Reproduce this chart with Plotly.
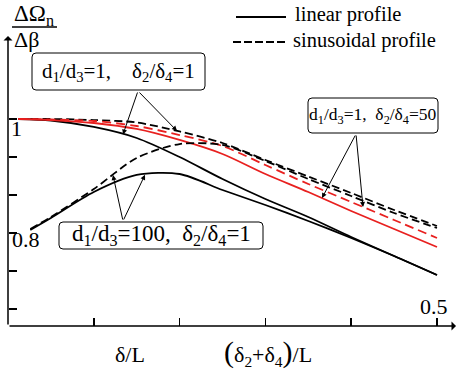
import numpy as np
import plotly.graph_objects as go

# ---- data ----
x_top = [0.012, 0.05, 0.1, 0.15, 0.2, 0.25, 0.3, 0.35, 0.4, 0.45, 0.5]
x_low = [0.026, 0.05, 0.1, 0.15, 0.2, 0.25, 0.3, 0.35, 0.4, 0.45, 0.5]

lin_1_1 = [1.000, 0.9974, 0.9860, 0.9667, 0.9333, 0.8947, 0.8596, 0.8281, 0.7930, 0.7596, 0.7263]
sin_1_1 = [1.000, 1.000, 0.9982, 0.9939, 0.9781, 0.9579, 0.9281, 0.8991, 0.8702, 0.8404, 0.8123]
lin_1_50 = [1.000, 0.9982, 0.9930, 0.9825, 0.9632, 0.9386, 0.9035, 0.8719, 0.8386, 0.8070, 0.7754]
sin_1_50 = [1.000, 0.9991, 0.9965, 0.9877, 0.9719, 0.9526, 0.9193, 0.8860, 0.8544, 0.8228, 0.7912]
lin_100_1 = [0.8053, 0.8263, 0.8719, 0.9018, 0.9035, 0.8754, 0.8491, 0.8211, 0.7912, 0.7596, 0.7263]
sin_100_1 = [0.8070, 0.8281, 0.8772, 0.9316, 0.9561, 0.9544, 0.9263, 0.8947, 0.8649, 0.8351, 0.8088]

y_tickvals = [1.0, 14 / 15, 13 / 15, 0.8, 11 / 15, 10 / 15]
x_tickvals = [0.1, 0.2, 0.3, 0.4, 0.5]

FONT = "Liberation Serif"
RED = "#e8201f"
W, H = 456, 372

# screen pixel -> axis helpers for placing text (layout only)
def X(px):
    return (px - 8) / 858.0

def Y(py):
    return 1 - (py - 119) / 570.0

fig = go.Figure()

def add(xs, ys, color, dash):
    fig.add_trace(go.Scatter(x=xs, y=ys, mode="lines",
                             line=dict(color=color, width=1.8, dash=dash, shape="spline", smoothing=0.8),
                             showlegend=False, hoverinfo="skip"))

add(x_top, lin_1_1, "black", "solid")
add(x_top, sin_1_1, "black", "8px,4px")
add(x_top, lin_1_50, RED, "solid")
add(x_top, sin_1_50, RED, "9px,5px")
add(x_low, lin_100_1, "black", "solid")
add(x_low, sin_100_1, "black", "8px,4px")

ann = []
shapes = []

def text(px, py, s, size=20, xanchor="center", **kw):
    d = dict(x=X(px), y=Y(py), xref="x", yref="y", text=s, showarrow=False,
             xanchor=xanchor, yanchor="middle", font=dict(family=FONT, size=size, color="black"))
    d.update(kw)
    ann.append(d)

def line_arrow(x0, y0, x1, y1, head, width, size=1.0):
    ann.append(dict(x=x1, y=y1, ax=x0, ay=y0, xref="x", yref="y", axref="x", ayref="y",
                    text="", showarrow=True, arrowhead=head, arrowsize=size, arrowwidth=width,
                    arrowcolor="black", standoff=0, startstandoff=0))

def arrow(tail_px, tail_py, tip_x, xs, ys):
    tip_y = float(np.interp(tip_x, xs, ys))
    line_arrow(X(tail_px), Y(tail_py), tip_x, tip_y, 2, 1)

def rbox(x0, y0, x1, y1, r=4):
    rx, ry = r / 858.0, r / 570.0
    a0, a1 = X(x0), X(x1)
    yt, yb = Y(y0), Y(y1)
    p = (f"M {a0+rx},{yt} L {a1-rx},{yt} Q {a1},{yt} {a1},{yt-ry} L {a1},{yb+ry} "
         f"Q {a1},{yb} {a1-rx},{yb} L {a0+rx},{yb} Q {a0},{yb} {a0},{yb+ry} "
         f"L {a0},{yt-ry} Q {a0},{yt} {a0+rx},{yt} Z")
    shapes.append(dict(type="path", path=p, xref="x", yref="y", fillcolor="white",
                       line=dict(color="black", width=1), layer="above"))

# axes with arrows
line_arrow(X(8), Y(326), X(8), Y(36), 1, 1.5)
line_arrow(X(8), Y(326), X(456), Y(326), 1, 1.5)

# labeled boxes
nb = "\u00a0"
rbox(32, 53, 205, 90)
text(118.5, 72, "d<sub>1</sub>/d<sub>3</sub>=1," + nb * 4 + "δ<sub>2</sub>/δ<sub>4</sub>=1", size=21)
rbox(308, 98, 438, 133)
text(373, 115.5, "d<sub>1</sub>/d<sub>3</sub>=1," + nb * 2 + "δ<sub>2</sub>/δ<sub>4</sub>=50", size=17.5)
rbox(59, 222, 263, 249)
text(161, 235, "d<sub>1</sub>/d<sub>3</sub>=100," + nb * 2 + "δ<sub>2</sub>/δ<sub>4</sub>=1", size=23)

# pointer arrows
arrow(138, 91, X(123), x_top, lin_1_1)
arrow(138, 91, X(177), x_top, sin_1_1)
arrow(356, 134, X(322), x_top, lin_1_50)
arrow(356, 134, X(363), x_top, sin_1_50)
arrow(123, 221, X(113), x_low, sin_100_1)
arrow(123, 221, X(145), x_low, lin_100_1)

# tick labels
text(16, 128, "1", size=22)
text(26, 239, "0.8", size=22)
text(434, 306, "0.5", size=22)

# axis titles
text(12, 15, "ΔΩ<sub>n</sub>", size=23, xanchor="left")
text(12, 39, "Δβ", size=22, xanchor="left")
text(130, 354, "δ/L", size=22)
text(268, 352, '<span style="font-size:30px">(</span>δ<sub>2</sub>+δ<sub>4</sub>'
     '<span style="font-size:30px">)</span>/L', size=22)

# legend
text(293, 14, "linear profile", size=20.5, xanchor="left")
text(291, 40, "sinusoidal profile", size=20.5, xanchor="left")

shapes += [
    dict(type="line", xref="x", yref="y", x0=X(12), x1=X(57), y0=Y(27), y1=Y(27),
         line=dict(color="black", width=1.5)),
    dict(type="line", xref="x", yref="y", x0=X(236), x1=X(286), y0=Y(17), y1=Y(17),
         line=dict(color="black", width=1.8)),
    dict(type="line", xref="x", yref="y", x0=X(233), x1=X(288), y0=Y(42), y1=Y(42),
         line=dict(color="black", width=1.8, dash="8px,3px")),
]

# plot area = whole figure; axes placed at screen x=8 and y=326
fig.update_layout(
    width=W, height=H,
    margin=dict(l=0, r=0, t=0, b=0),
    paper_bgcolor="white", plot_bgcolor="white",
    annotations=ann, shapes=shapes,
    xaxis=dict(range=[X(0), X(W)], showgrid=False, zeroline=False, showline=False,
               anchor="free", position=(H - 326) / H,
               ticks="inside", ticklen=8, tickwidth=1.5, tickcolor="black",
               tickvals=x_tickvals, showticklabels=False),
    yaxis=dict(range=[Y(H), Y(0)], showgrid=False, zeroline=False, showline=False,
               anchor="free", position=8 / W,
               ticks="inside", ticklen=8, tickwidth=1.5, tickcolor="black",
               tickvals=y_tickvals, showticklabels=False),
)

fig.write_html("out.html", config={"displayModeBar": False, "staticPlot": True},
               post_script="document.body.style.margin='0';")
